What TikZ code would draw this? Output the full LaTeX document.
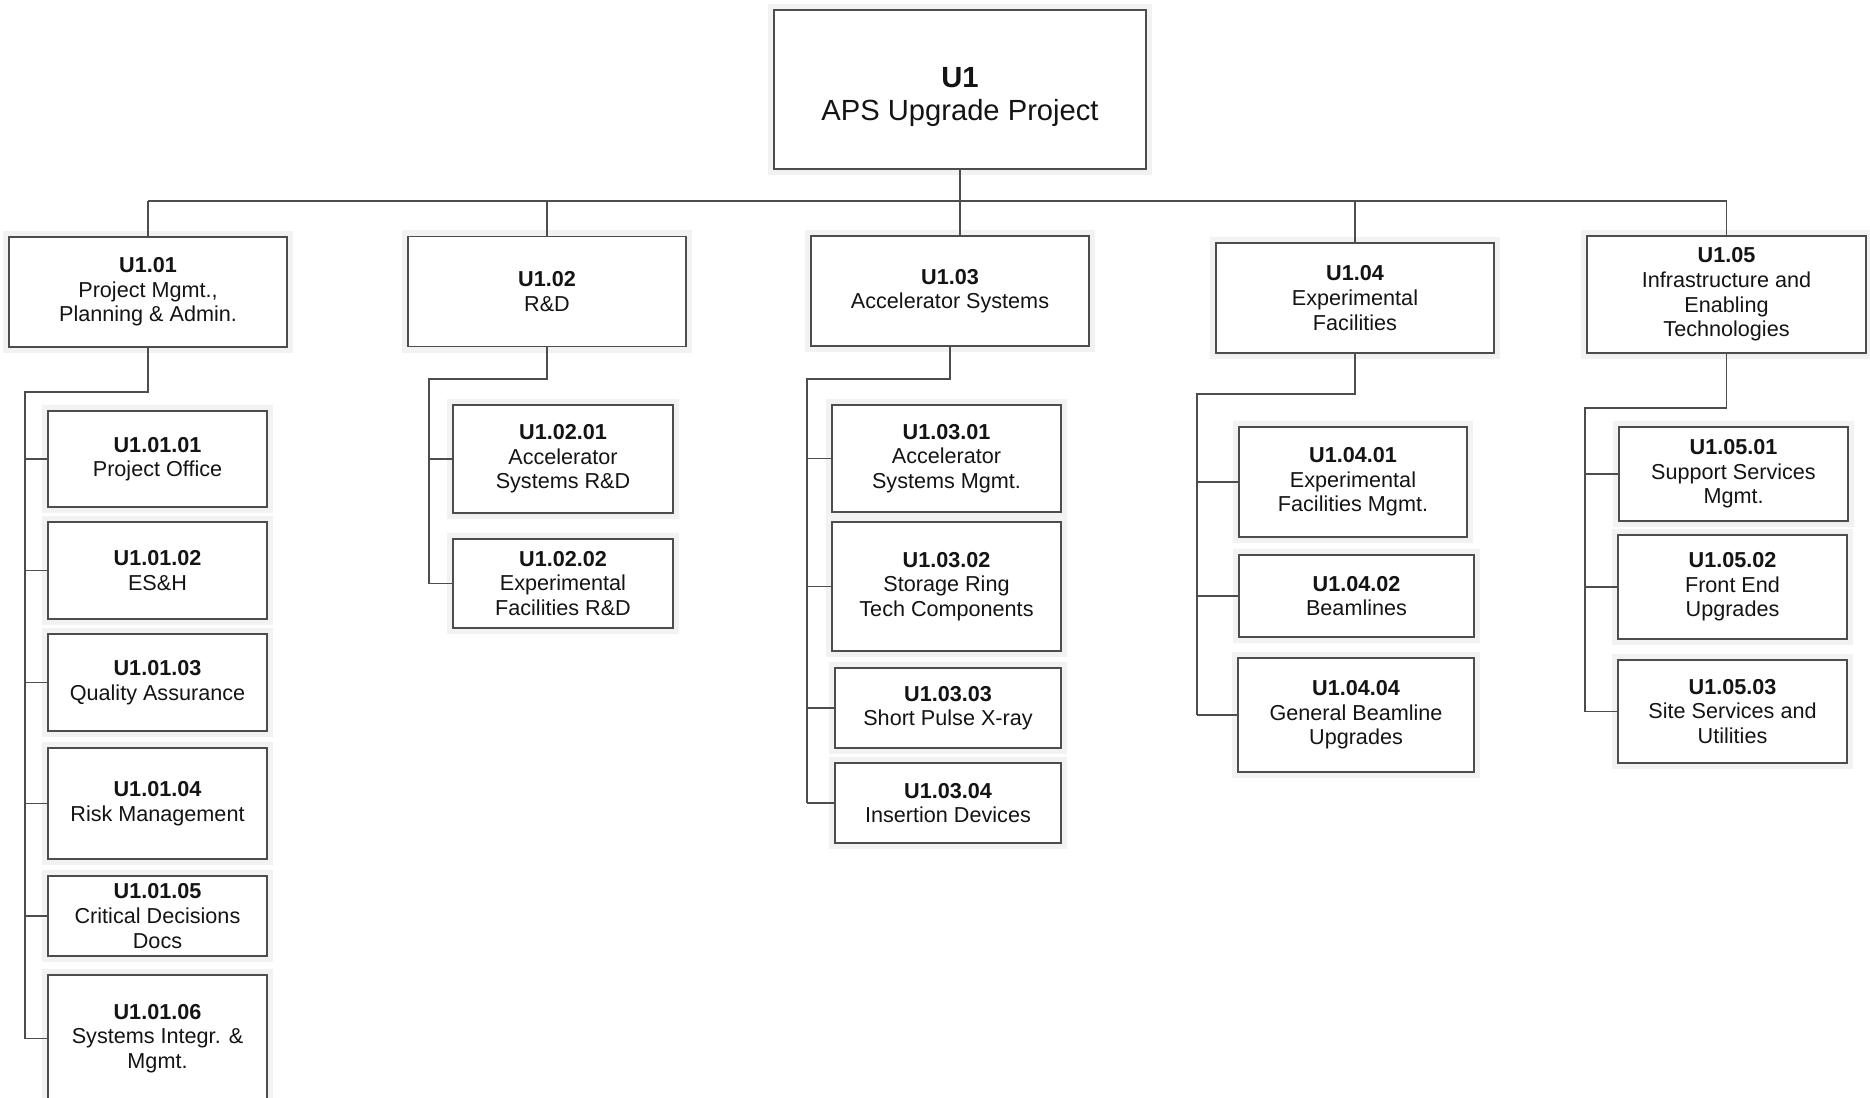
\documentclass[tikz,border=0pt]{standalone}
\usepackage{fontspec}
\setmainfont{Liberation Sans}
\definecolor{linegray}{HTML}{4D4D4D}
\definecolor{textgray}{HTML}{141414}
\tikzset{
    every node/.style={align=center,},
    wbs/.style={draw=linegray,rectangle,fill=white,line width=1.1pt,text=textgray,inner sep=2pt,
        font=\fontsize{12.3}{14}\selectfont,preaction={draw=black!5,line width=7pt},},
    link/.style={draw=linegray,line width=1.1pt,},
}

\begin{document}
\begin{tikzpicture}[x=0.02cm,y=-0.02cm]
                \clip (0,0) rectangle (1870,1098);

                \node[wbs,minimum width=7.44cm,minimum height=3.18cm,text height=1.56cm,text depth=0.3cm,font=\fontsize{16.6}{19}\selectfont] (u1) at (960,89.5) {\textbf{U1}\\APS Upgrade Project};

                \node[wbs,minimum width=5.56cm,minimum height=2.2cm] (u101) at (148,292) {\textbf{U1.01}\\Project Mgmt.,\\Planning \& Admin.};
                \node[wbs,minimum width=5.56cm,minimum height=2.2cm] (u102) at (547,291.5) {\textbf{U1.02}\\R\&D};
                \node[wbs,minimum width=5.56cm,minimum height=2.2cm] (u103) at (950,291) {\textbf{U1.03}\\Accelerator Systems};
                \node[wbs,minimum width=5.56cm,minimum height=2.2cm] (u104) at (1355,298) {\textbf{U1.04}\\Experimental\\Facilities};
                \node[wbs,minimum width=5.58cm,minimum height=2.34cm] (u105) at (1726.5,294.5) {\textbf{U1.05}\\Infrastructure and\\Enabling\\Technologies};

                \node[wbs,minimum width=4.38cm,minimum height=1.92cm] (u10101) at (157.5,459) {\textbf{U1.01.01}\\Project Office};
                \node[wbs,minimum width=4.38cm,minimum height=1.94cm] (u10102) at (157.5,570.5) {\textbf{U1.01.02}\\ES\&H};
                \node[wbs,minimum width=4.38cm,minimum height=1.94cm] (u10103) at (157.5,682.5) {\textbf{U1.01.03}\\Quality Assurance};
                \node[wbs,minimum width=4.38cm,minimum height=2.22cm] (u10104) at (157.5,803.5) {\textbf{U1.01.04}\\Risk Management};
                \node[wbs,minimum width=4.38cm,minimum height=1.6cm] (u10105) at (157.5,916) {\textbf{U1.01.05}\\Critical Decisions\\Docs};
                \node[wbs,minimum width=4.38cm,minimum height=2.54cm] (u10106) at (157.5,1038.5) {\textbf{U1.01.06}\\Systems Integr. \&\\Mgmt.};

                \node[wbs,minimum width=4.4cm,minimum height=2.16cm] (u10201) at (563,459) {\textbf{U1.02.01}\\Accelerator\\Systems R\&D};
                \node[wbs,minimum width=4.4cm,minimum height=1.78cm] (u10202) at (563,583.5) {\textbf{U1.02.02}\\Experimental\\Facilities R\&D};

                \node[wbs,minimum width=4.58cm,minimum height=2.14cm] (u10301) at (946.5,458.5) {\textbf{U1.03.01}\\Accelerator\\Systems Mgmt.};
                \node[wbs,minimum width=4.58cm,minimum height=2.58cm] (u10302) at (946.5,586.5) {\textbf{U1.03.02}\\Storage Ring\\Tech Components};
                \node[wbs,minimum width=4.52cm,minimum height=1.6cm] (u10303) at (948,708) {\textbf{U1.03.03}\\Short Pulse X-ray};
                \node[wbs,minimum width=4.52cm,minimum height=1.6cm] (u10304) at (948,803) {\textbf{U1.03.04}\\Insertion Devices};

                \node[wbs,minimum width=4.56cm,minimum height=2.2cm] (u10401) at (1353,482) {\textbf{U1.04.01}\\Experimental\\Facilities Mgmt.};
                \node[wbs,minimum width=4.7cm,minimum height=1.64cm] (u10402) at (1356.5,596) {\textbf{U1.04.02}\\Beamlines};
                \node[wbs,minimum width=4.72cm,minimum height=2.28cm] (u10404) at (1356,715) {\textbf{U1.04.04}\\General Beamline\\Upgrades};

                \node[wbs,minimum width=4.58cm,minimum height=1.88cm] (u10501) at (1733.5,474) {\textbf{U1.05.01}\\Support Services\\Mgmt.};
                \node[wbs,minimum width=4.58cm,minimum height=2.08cm] (u10502) at (1732.5,587) {\textbf{U1.05.02}\\Front End\\Upgrades};
                \node[wbs,minimum width=4.58cm,minimum height=2.06cm] (u10503) at (1732.5,711.5) {\textbf{U1.05.03}\\Site Services and\\Utilities};

                % top level bus
                \coordinate (bus) at (960,201);
                \draw[link] (u1.south) -- (u1.south |- u103.north);
                \draw[link] (u101.north |- bus) -- (u105.north |- bus);
                \draw[link] (u101.north |- bus) -- (u101.north);
                \draw[link] (u102.north |- bus) -- (u102.north);
                \draw[link] (u104.north |- bus) -- (u104.north);
                \draw[link] (u105.north |- bus) -- (u105.north);

                % U1.01 group
                \coordinate (spine1) at (25,392);
                \draw[link] (u101.south) |- (spine1) -- (spine1 |- u10106.west);
                \draw[link] (spine1 |- u10101.west) -- (u10101.west);
                \draw[link] (spine1 |- u10102.west) -- (u10102.west);
                \draw[link] (spine1 |- u10103.west) -- (u10103.west);
                \draw[link] (spine1 |- u10104.west) -- (u10104.west);
                \draw[link] (spine1 |- u10105.west) -- (u10105.west);
                \draw[link] (spine1 |- u10106.west) -- (u10106.west);

                % U1.02 group
                \coordinate (spine2) at (429,379);
                \draw[link] (u102.south) |- (spine2) -- (spine2 |- u10202.west);
                \draw[link] (spine2 |- u10201.west) -- (u10201.west);
                \draw[link] (spine2 |- u10202.west) -- (u10202.west);

                % U1.03 group
                \coordinate (spine3) at (807,379);
                \draw[link] (u103.south) |- (spine3) -- (spine3 |- u10304.west);
                \draw[link] (spine3 |- u10301.west) -- (u10301.west);
                \draw[link] (spine3 |- u10302.west) -- (u10302.west);
                \draw[link] (spine3 |- u10303.west) -- (u10303.west);
                \draw[link] (spine3 |- u10304.west) -- (u10304.west);

                % U1.04 group
                \coordinate (spine4) at (1197,394);
                \draw[link] (u104.south) |- (spine4) -- (spine4 |- u10404.west);
                \draw[link] (spine4 |- u10401.west) -- (u10401.west);
                \draw[link] (spine4 |- u10402.west) -- (u10402.west);
                \draw[link] (spine4 |- u10404.west) -- (u10404.west);

                % U1.05 group
                \coordinate (spine5) at (1585,408);
                \draw[link] (u105.south) |- (spine5) -- (spine5 |- u10503.west);
                \draw[link] (spine5 |- u10501.west) -- (u10501.west);
                \draw[link] (spine5 |- u10502.west) -- (u10502.west);
                \draw[link] (spine5 |- u10503.west) -- (u10503.west);
            \end{tikzpicture}
\end{document}
